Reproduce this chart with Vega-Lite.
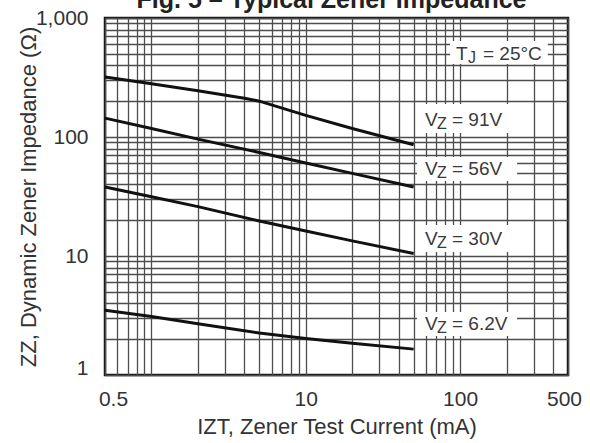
{
  "$schema": "https://vega.github.io/schema/vega-lite/v6.json",
  "width": 463,
  "height": 357,
  "autosize": "none",
  "padding": {"left": 105, "top": 18, "right": 22, "bottom": 68},
  "background": "white",
  "title": {
    "text": "Fig. 5 – Typical Zener Impedance",
    "font": "Liberation Sans",
    "fontSize": 25,
    "fontWeight": "bold",
    "color": "#222222",
    "baseline": "alphabetic",
    "frame": "group",
    "anchor": "middle",
    "offset": -12,
    "dx": -5,
    "dy": 14
  },
  "config": {
    "view": {"stroke": "#111111", "strokeWidth": 2.5}
  },
  "datasets": {
    "curves": [
      {"vz": "91V", "current": 0.5, "impedance": 319},
      {"vz": "91V", "current": 1, "impedance": 280},
      {"vz": "91V", "current": 2, "impedance": 245},
      {"vz": "91V", "current": 4, "impedance": 212},
      {"vz": "91V", "current": 5, "impedance": 200},
      {"vz": "91V", "current": 10, "impedance": 152},
      {"vz": "91V", "current": 20, "impedance": 118},
      {"vz": "91V", "current": 50, "impedance": 86},
      {"vz": "56V", "current": 0.5, "impedance": 144},
      {"vz": "56V", "current": 1, "impedance": 118},
      {"vz": "56V", "current": 2, "impedance": 96},
      {"vz": "56V", "current": 5, "impedance": 74},
      {"vz": "56V", "current": 10, "impedance": 60.5},
      {"vz": "56V", "current": 20, "impedance": 49.5},
      {"vz": "56V", "current": 50, "impedance": 38},
      {"vz": "30V", "current": 0.5, "impedance": 38},
      {"vz": "30V", "current": 1, "impedance": 31.5},
      {"vz": "30V", "current": 2, "impedance": 26},
      {"vz": "30V", "current": 5, "impedance": 19.7},
      {"vz": "30V", "current": 10, "impedance": 16.2},
      {"vz": "30V", "current": 20, "impedance": 13.4},
      {"vz": "30V", "current": 50, "impedance": 10.5},
      {"vz": "6.2V", "current": 0.5, "impedance": 3.5},
      {"vz": "6.2V", "current": 1, "impedance": 3.1},
      {"vz": "6.2V", "current": 2, "impedance": 2.7},
      {"vz": "6.2V", "current": 5, "impedance": 2.25},
      {"vz": "6.2V", "current": 10, "impedance": 2.03},
      {"vz": "6.2V", "current": 20, "impedance": 1.85},
      {"vz": "6.2V", "current": 50, "impedance": 1.65}
    ],
    "labels": [
      {"a": "T", "b": "J", "c": "= 25°C", "lx": 94, "ly": 444, "x0": 86, "x1": 370, "y0": 410, "y1": 641},
      {"a": "V", "b": "Z", "c": "= 91V", "lx": 59.2, "ly": 123.7, "x0": 52.5, "x1": 217, "y0": 108, "y1": 189},
      {"a": "V", "b": "Z", "c": "= 56V", "lx": 59.2, "ly": 47.9, "x0": 52.5, "x1": 234, "y0": 42.7, "y1": 67.9},
      {"a": "V", "b": "Z", "c": "= 30V", "lx": 59.2, "ly": 12.37, "x0": 52.5, "x1": 217, "y0": 10.8, "y1": 18.2},
      {"a": "V", "b": "Z", "c": "= 6.2V", "lx": 59.2, "ly": 2.39, "x0": 52.5, "x1": 234, "y0": 2.13, "y1": 3.38}
    ]
  },
  "layer": [
    {
      "data": {"name": "labels"},
      "mark": {"type": "rect", "fill": "white", "stroke": null},
      "encoding": {
        "x": {
          "field": "x0", "type": "quantitative",
          "scale": {"type": "log", "domain": [0.5, 500], "nice": false},
          "title": "IZT, Zener Test Current (mA)",
          "axis": {
            "values": [0.5, 0.6, 0.7, 0.8, 0.9, 1, 2, 3, 4, 5, 6, 7, 8, 9, 10, 20, 30, 40, 50, 60, 70, 80, 90, 100, 200, 300, 400, 500],
            "labelExpr": "datum.value == 0.5 ? '0.5' : datum.value == 10 ? '10' : datum.value == 100 ? '100' : datum.value == 500 ? '500' : ''",
            "grid": true, "gridColor": "#4d4d4d", "gridWidth": 1.3, "gridOpacity": 1,
            "ticks": false, "domain": false,
            "labelFont": "Liberation Sans", "labelFontSize": 21, "labelColor": "#333333",
            "labelPadding": 13, "labelFlush": false, "labelOverlap": false,
            "labelOffset": {"condition": [{"test": "datum.value == 0.5", "value": 8}, {"test": "datum.value == 500", "value": -4}], "value": 0},
            "titleFont": "Liberation Sans", "titleFontSize": 22, "titleFontWeight": "normal",
            "titleColor": "#333333", "titlePadding": 7
          }
        },
        "x2": {"field": "x1"},
        "y": {
          "field": "y0", "type": "quantitative",
          "scale": {"type": "log", "domain": [1, 1000], "nice": false},
          "title": "ZZ, Dynamic Zener Impedance (Ω)",
          "axis": {
            "values": [1, 2, 3, 4, 5, 6, 7, 8, 9, 10, 20, 30, 40, 50, 60, 70, 80, 90, 100, 200, 300, 400, 500, 600, 700, 800, 900, 1000],
            "labelExpr": "datum.value == 1 ? '1' : datum.value == 10 ? '10' : datum.value == 100 ? '100' : datum.value == 1000 ? '1,000' : ''",
            "grid": true, "gridColor": "#4d4d4d", "gridWidth": 1.3, "gridOpacity": 1,
            "ticks": false, "domain": false,
            "labelFont": "Liberation Sans", "labelFontSize": 21, "labelColor": "#333333",
            "labelPadding": 17, "labelFlush": false, "labelOverlap": false,
            "labelOffset": {"condition": {"test": "datum.value == 1", "value": -7}, "value": 0},
            "titleFont": "Liberation Sans", "titleFontSize": 22, "titleFontWeight": "normal",
            "titleColor": "#333333", "titlePadding": -5
          }
        },
        "y2": {"field": "y1"}
      }
    },
    {
      "data": {"name": "curves"},
      "mark": {"type": "line", "color": "#111111", "strokeWidth": 3},
      "encoding": {
        "x": {"field": "current", "type": "quantitative", "title": "IZT, Zener Test Current (mA)"},
        "y": {"field": "impedance", "type": "quantitative", "title": "ZZ, Dynamic Zener Impedance (Ω)"},
        "detail": {"field": "vz"}
      }
    },
    {
      "data": {"name": "labels"},
      "mark": {"type": "text", "align": "left", "baseline": "alphabetic", "font": "Liberation Sans", "fontSize": 19, "color": "#3a3a3a"},
      "encoding": {
        "x": {"field": "lx", "type": "quantitative", "title": "IZT, Zener Test Current (mA)"},
        "y": {"field": "ly", "type": "quantitative", "title": "ZZ, Dynamic Zener Impedance (Ω)"},
        "text": {"field": "a"}
      }
    },
    {
      "data": {"name": "labels"},
      "mark": {"type": "text", "align": "left", "baseline": "alphabetic", "font": "Liberation Sans", "fontSize": 16, "dx": 12, "dy": 3, "color": "#3a3a3a"},
      "encoding": {
        "x": {"field": "lx", "type": "quantitative", "title": "IZT, Zener Test Current (mA)"},
        "y": {"field": "ly", "type": "quantitative", "title": "ZZ, Dynamic Zener Impedance (Ω)"},
        "text": {"field": "b"}
      }
    },
    {
      "data": {"name": "labels"},
      "mark": {"type": "text", "align": "left", "baseline": "alphabetic", "font": "Liberation Sans", "fontSize": 19, "dx": 27, "color": "#3a3a3a"},
      "encoding": {
        "x": {"field": "lx", "type": "quantitative", "title": "IZT, Zener Test Current (mA)"},
        "y": {"field": "ly", "type": "quantitative", "title": "ZZ, Dynamic Zener Impedance (Ω)"},
        "text": {"field": "c"}
      }
    }
  ]
}
